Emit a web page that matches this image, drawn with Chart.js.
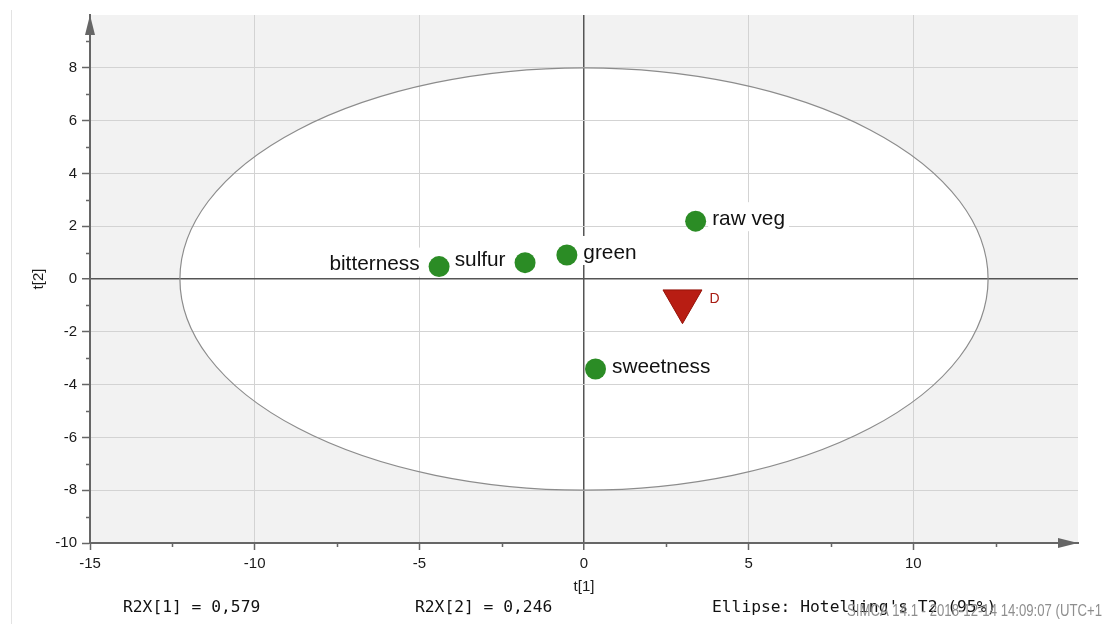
<!DOCTYPE html>
<html>
<head>
<meta charset="utf-8">
<title>Score plot t[1] / t[2]</title>
<script src="https://cdn.jsdelivr.net/npm/chart.js@4/dist/chart.umd.min.js"></script>
<style>
  html, body { margin: 0; padding: 0; background: #fff; overflow: hidden; }
  #wrap { position: relative; width: 1102px; height: 624px; }
  #plot { position: absolute; left: 0; top: 0; }
  .edge { position: absolute; left: 11px; top: 10px; bottom: 0; width: 1px; background: #e3e3e3; }
</style>
</head>
<body>
<div id="wrap">
  <div class="edge"></div>
  <canvas id="plot" width="1102" height="624"></canvas>
</div>
<script>
// Variables projected on the first two components
const varNames = ['bitterness', 'sulfur', 'green', 'raw veg', 'sweetness'];
const varT1 = [-4.40, -1.79, -0.52, 3.39, 0.35];
const varT2 = [0.47, 0.62, 0.91, 2.19, -3.41];

// Observation
const obsNames = ['D'];
const obsT1 = [2.99];
const obsT2 = [-0.84];

// Axis ranges and tick spacing
const t1Range = [-15, 15];
const t2Range = [-10, 10];
const t1Step = 5;
const t2Step = 2;

// Hotelling's T2 (95%) ellipse half-axes
const ellipseT1 = 12.27;
const ellipseT2 = 8.0;

// Footer texts
const r2x = ['0,579', '0,246'];
const ellipseNote = "Ellipse: Hotelling's T2 (95%)";
const stamp = 'SIMCA 14.1 - 2018-12-14 14:09:07 (UTC+1';

// Which side of its marker each variable name sits on
const labelSide = ['left', 'left', 'right', 'right', 'right'];

const SANS = '"Liberation Sans", Arial, Helvetica, sans-serif';
const MONO = '"DejaVu Sans Mono", "Liberation Mono", monospace';
const AXIS = '#666';
const ZERO = '#555';
const GRID = '#d3d3d3';
const DOT_R = 10.5;

function ellipsePath(ctx, x, y) {
  const cx = x.getPixelForValue(0);
  const cy = y.getPixelForValue(0);
  const rx = x.getPixelForValue(ellipseT1) - cx;
  const ry = cy - y.getPixelForValue(ellipseT2);
  ctx.beginPath();
  ctx.ellipse(cx, cy, rx, ry, 0, 0, Math.PI * 2);
}

const decor = {
  id: 'decor',
  beforeDraw(chart) {
    const { ctx, chartArea: a, scales: { x, y } } = chart;
    ctx.save();
    ctx.fillStyle = '#f2f2f2';
    ctx.fillRect(a.left, a.top, a.right - a.left, a.bottom - a.top);
    ellipsePath(ctx, x, y);
    ctx.fillStyle = '#ffffff';
    ctx.fill();
    ctx.restore();
  },
  beforeDatasetsDraw(chart) {
    const { ctx, chartArea: a, scales: { x, y } } = chart;
    ctx.save();
    // ellipse outline
    ellipsePath(ctx, x, y);
    ctx.strokeStyle = '#8c8c8c';
    ctx.lineWidth = 1.2;
    ctx.stroke();

    // minor ticks halfway between the major ones
    ctx.strokeStyle = AXIS;
    ctx.lineWidth = 1.5;
    ctx.beginPath();
    for (let v = t1Range[0] + t1Step / 2; v < t1Range[1]; v += t1Step) {
      const px = Math.round(x.getPixelForValue(v)) + 0.5;
      ctx.moveTo(px, a.bottom);
      ctx.lineTo(px, a.bottom + 4);
    }
    for (let v = t2Range[0] + t2Step / 2; v < t2Range[1]; v += t2Step) {
      const py = Math.round(y.getPixelForValue(v)) + 0.5;
      ctx.moveTo(a.left, py);
      ctx.lineTo(a.left - 4, py);
    }
    ctx.stroke();

    // axis arrow heads
    ctx.fillStyle = AXIS;
    ctx.beginPath();
    ctx.moveTo(a.left, a.top);
    ctx.lineTo(a.left - 5, a.top + 20);
    ctx.lineTo(a.left + 5, a.top + 20);
    ctx.closePath();
    ctx.fill();
    ctx.beginPath();
    ctx.moveTo(a.right, a.bottom);
    ctx.lineTo(a.right - 20, a.bottom - 5);
    ctx.lineTo(a.right - 20, a.bottom + 5);
    ctx.closePath();
    ctx.fill();
    ctx.restore();
  },
  afterDatasetsDraw(chart) {
    const { ctx } = chart;
    ctx.save();
    // variable names on white boxes
    ctx.font = '20.8px ' + SANS;
    ctx.textBaseline = 'middle';
    ctx.textAlign = 'left';
    chart.getDatasetMeta(0).data.forEach((pt, i) => {
      const name = varNames[i];
      const w = ctx.measureText(name).width;
      const tx = labelSide[i] === 'left' ? pt.x - DOT_R - 9 - w : pt.x + DOT_R + 6;
      const ty = pt.y - 2;
      ctx.fillStyle = '#ffffff';
      ctx.fillRect(tx - 4, ty - 17, w + 8, 29);
      ctx.fillStyle = '#111';
      ctx.fillText(name, tx, ty);
    });
    // observation name
    ctx.font = '14px ' + SANS;
    ctx.fillStyle = '#a81b12';
    chart.getDatasetMeta(1).data.forEach((pt, i) => {
      ctx.fillText(obsNames[i], pt.x + 27, pt.y - 2);
    });
    ctx.restore();
  },
  afterDraw(chart) {
    const { ctx, chartArea: a } = chart;
    ctx.save();
    ctx.fillStyle = '#1a1a1a';
    ctx.font = '15px ' + SANS;
    ctx.textAlign = 'center';
    ctx.textBaseline = 'alphabetic';
    ctx.fillText('t[1]', (a.left + a.right) / 2, 591);
    ctx.save();
    ctx.translate(39, (a.top + a.bottom) / 2);
    ctx.rotate(-Math.PI / 2);
    ctx.textBaseline = 'middle';
    ctx.fillText('t[2]', 0, 0);
    ctx.restore();

    ctx.textAlign = 'left';
    ctx.font = '16.3px ' + MONO;
    ctx.fillStyle = '#111';
    ctx.fillText('R2X[1] = ' + r2x[0], 123, 612);
    ctx.fillText('R2X[2] = ' + r2x[1], 415, 612);
    ctx.fillText(ellipseNote, 712, 612);

    ctx.font = '16px ' + SANS;
    ctx.fillStyle = '#8e8e8e';
    ctx.fillText(stamp, 847, 616, 255);
    ctx.restore();
  }
};

// The far end of each axis carries the arrow head instead of a tick
const dropEnd = end => s => { s.ticks = s.ticks.filter(t => t.value !== end); };
const isStart = (v, r) => v === r[0];

new Chart(document.getElementById('plot'), {
  type: 'scatter',
  data: {
    datasets: [
      {
        label: 'variables',
        data: varT1.map((v, i) => ({ x: v, y: varT2[i] })),
        pointStyle: 'circle',
        pointRadius: DOT_R,
        pointHoverRadius: DOT_R,
        backgroundColor: '#2b8c25',
        borderWidth: 0
      },
      {
        label: 'observations',
        data: obsT1.map((v, i) => ({ x: v, y: obsT2[i] })),
        pointStyle: 'triangle',
        rotation: 180,
        pointRadius: 22.5,
        pointHoverRadius: 22.5,
        backgroundColor: '#b81d13',
        borderColor: '#961309',
        borderWidth: 1
      }
    ]
  },
  options: {
    responsive: false,
    animation: false,
    devicePixelRatio: 1,
    layout: { autoPadding: false, padding: { left: 0, top: 15, right: 24, bottom: 0 } },
    plugins: { legend: { display: false }, tooltip: { enabled: false } },
    events: [],
    scales: {
      x: {
        type: 'linear',
        position: 'bottom',
        min: t1Range[0],
        max: t1Range[1],
        afterBuildTicks: dropEnd(t1Range[1]),
        afterFit(s) { s.height = 81; s.paddingLeft = 0; s.paddingRight = 0; },
        ticks: {
          stepSize: t1Step,
          padding: 5,
          color: '#1a1a1a',
          font: { family: SANS, size: 15 }
        },
        grid: {
          color: c => (c.tick.value === 0 ? ZERO : isStart(c.tick.value, t1Range) ? 'rgba(0,0,0,0)' : GRID),
          lineWidth: c => (c.tick.value === 0 ? 1.5 : 1),
          tickLength: 7,
          tickWidth: 1.5,
          tickColor: AXIS
        },
        border: { color: AXIS, width: 2 }
      },
      y: {
        type: 'linear',
        position: 'left',
        min: t2Range[0],
        max: t2Range[1],
        afterBuildTicks: dropEnd(t2Range[1]),
        afterFit(s) { s.width = 90; s.paddingTop = 0; s.paddingBottom = 0; },
        ticks: {
          stepSize: t2Step,
          padding: 5,
          color: '#1a1a1a',
          font: { family: SANS, size: 15 }
        },
        grid: {
          color: c => (c.tick.value === 0 ? ZERO : isStart(c.tick.value, t2Range) ? 'rgba(0,0,0,0)' : GRID),
          lineWidth: c => (c.tick.value === 0 ? 1.5 : 1),
          tickLength: 8,
          tickWidth: 1.5,
          tickColor: AXIS
        },
        border: { color: AXIS, width: 2 }
      }
    }
  },
  plugins: [decor]
});
</script>
</body>
</html>
